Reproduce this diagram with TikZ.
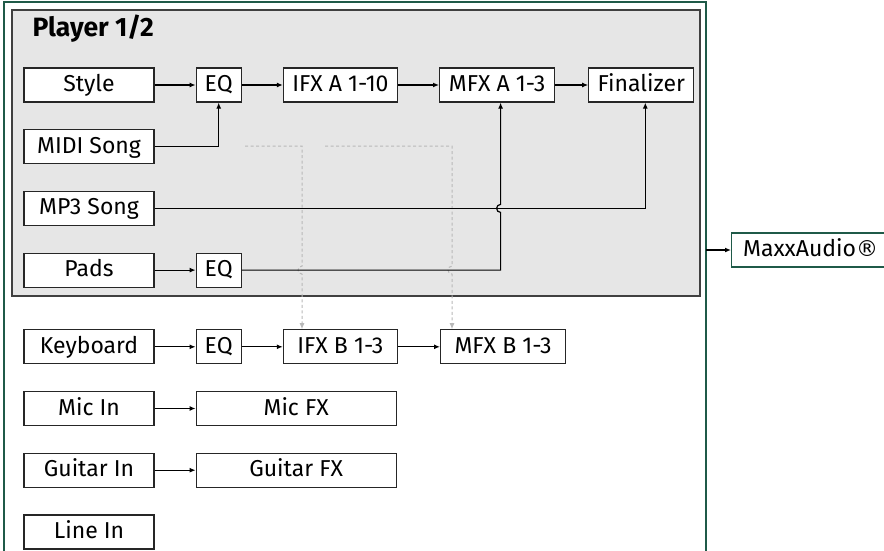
\documentclass[tikz,border=0pt]{standalone}
\usepackage{fontspec}
\setmainfont{Fira Sans}
\newfontfamily\regfont{DejaVu Sans}
\usetikzlibrary{arrows.meta,positioning}
\definecolor{framegreen}{HTML}{1F5A48}
\definecolor{panelgray}{HTML}{E6E6E6}

\begin{document}
\begin{tikzpicture}[x=1pt, y=-1pt,
  font=\fontsize{23}{25}\selectfont,
  box/.style={draw=black!85, line width=1.2pt, fill=white, inner sep=0pt, minimum height=34pt, text height=17pt, text depth=4pt},
  arr/.style={-{Latex[length=6pt,width=5pt]}, line width=1.2pt},
  dsh/.style={-{Latex[length=6pt,width=5pt]}, draw=black!28, line width=1pt, dash pattern=on 3pt off 2.5pt}
]
\useasboundingbox (0,0) rectangle (884,551);
% frame and player panel
\draw[framegreen, line width=2.8pt] (4,600) -- (4,2) -- (706,2) -- (706,600);
\draw[black!75, fill=panelgray, line width=1.4pt] (12,10) rectangle (700,296);
\node[anchor=base west, font=\fontsize{26.5}{28}\selectfont\bfseries] (title) at (29,37) {Player 1/2};

% player rows
\node[box, minimum width=130pt] (style) at (89,85) {Style};
\node[box, minimum width=45pt, right=41pt of style] (eqa) {EQ};
\node[box, minimum width=114pt, right=41pt of eqa] (ifxa) {IFX A 1-10};
\node[box, minimum width=115pt, right=41pt of ifxa] (mfxa) {MFX A 1-3};
\node[box, minimum width=105pt, right=33pt of mfxa] (fin) {Finalizer};
\node[box, minimum width=130pt, below=26.5pt of style] (midi) {MIDI Song};
\node[box, minimum width=130pt, below=26.5pt of midi] (mpthree) {MP3 Song};
\node[box, minimum width=130pt, below=26.5pt of mpthree] (pads) {Pads};
\node[box, minimum width=45pt, right=41pt of pads] (eqb) {EQ};

% keyboard and inputs
\node[box, minimum width=130pt, below=41.5pt of pads] (kbd) {Keyboard};
\node[box, minimum width=45pt, right=41pt of kbd] (eqc) {EQ};
\node[box, minimum width=114pt, right=41pt of eqc] (ifxb) {IFX B 1-3};
\node[box, minimum width=125pt, right=42pt of ifxb] (mfxb) {MFX B 1-3};
\node[box, minimum width=130pt, below=26.5pt of kbd] (mic) {Mic In};
\node[box, minimum width=200pt, right=41pt of mic] (micfx) {Mic FX};
\node[box, minimum width=130pt, below=26.5pt of mic] (gtr) {Guitar In};
\node[box, minimum width=200pt, right=41pt of gtr] (gtrfx) {Guitar FX};
\node[box, minimum width=130pt, below=26.5pt of gtr] (linein) {Line In};

\node[box, draw=framegreen, minimum width=158pt, anchor=west] (maxx) at (731,250) {MaxxAudio{\regfont\fontsize{22}{24}\selectfont ®}};

% dashed links to the B chain
\coordinate (dsa) at (245,146);
\coordinate (dka) at (302,146);
\coordinate (dsb) at (325,146);
\coordinate (dkb) at (452,146);
\draw[dsh] (dsa) -- (dka) -- ([yshift=4pt]dka |- eqb.east) arc[start angle=90, end angle=270, radius=4pt] -- (dka |- ifxb.north);
\draw[dsh] (dsb) -- (dkb) -- ([yshift=4pt]dkb |- eqb.east) arc[start angle=90, end angle=270, radius=4pt] -- (dkb |- mfxb.north);

\draw[arr] (style) -- (eqa);
\draw[arr] (eqa) -- (ifxa);
\draw[arr] (ifxa) -- (mfxa);
\draw[arr] (mfxa) -- (fin);
\draw[arr] (midi) -| (eqa);
\draw[arr] (mpthree) -| ([xshift=4pt]fin.south);
\draw[arr] (pads) -- (eqb);
\draw[arr] (eqb) -| ([xshift=3.5pt,yshift=-4pt]mfxa.south |- mpthree.east) arc[start angle=-90, end angle=-270, radius=4pt] -- ([xshift=3.5pt]mfxa.south);

\draw[arr] (kbd) -- (eqc);
\draw[arr] (eqc) -- (ifxb);
\draw[arr] (ifxb) -- (mfxb);
\draw[arr] (mic) -- (micfx);
\draw[arr] (gtr) -- (gtrfx);

\coordinate (out) at (706,250);
\draw[arr] (out) -- (maxx);
\end{tikzpicture}
\end{document}
